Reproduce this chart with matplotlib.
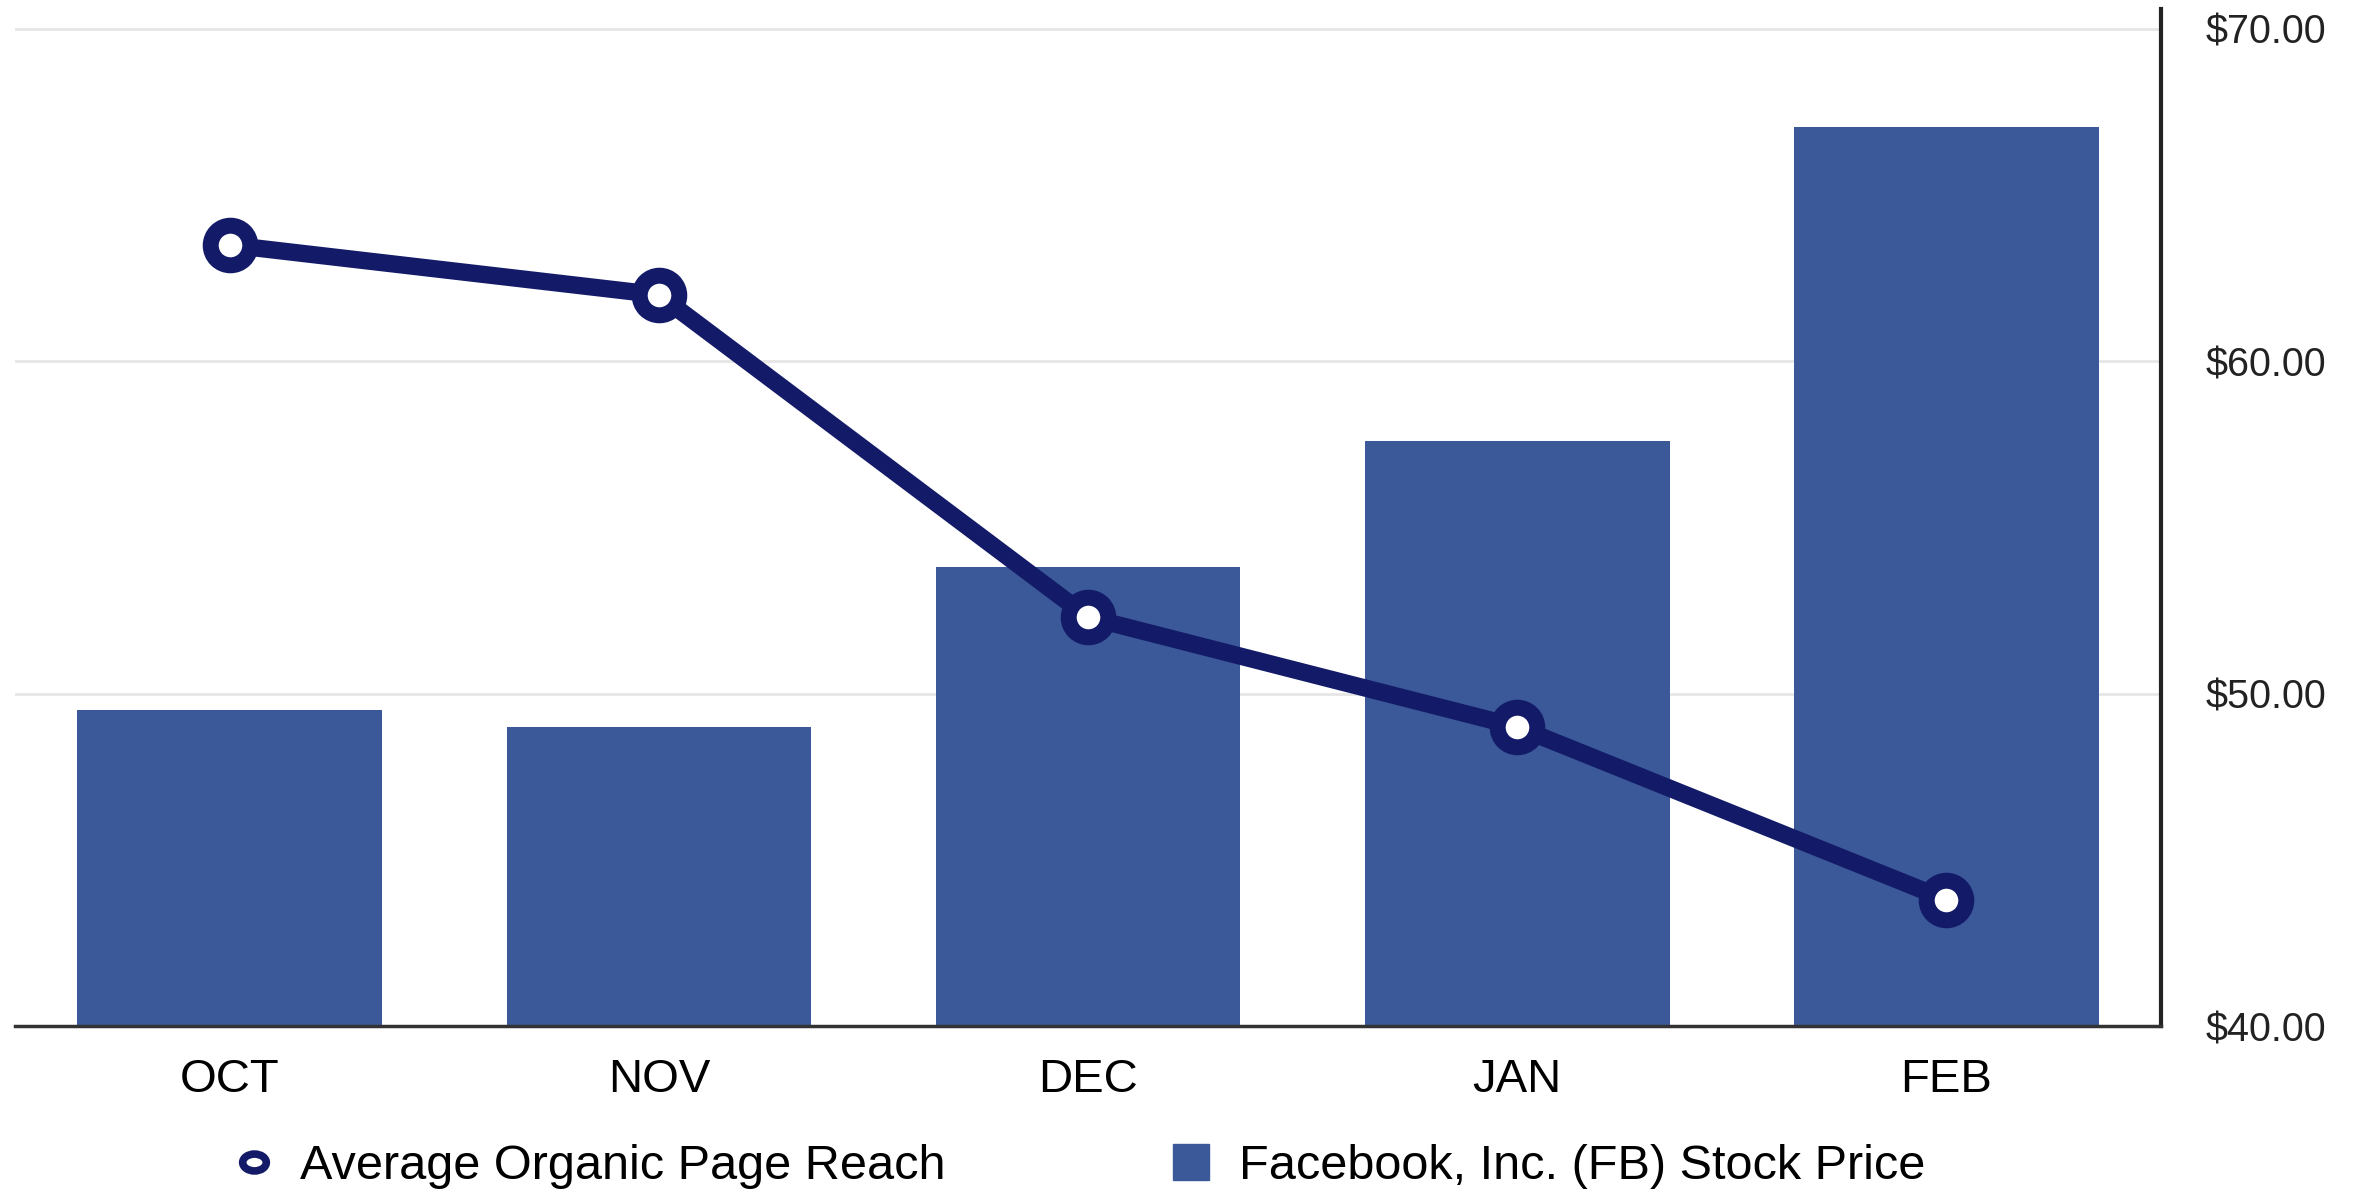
import matplotlib
matplotlib.use("Agg")
import matplotlib.pyplot as plt
from matplotlib.lines import Line2D
from matplotlib.path import Path
from matplotlib.transforms import Affine2D

plt.rcParams['font.family'] = ['Liberation Sans', 'DejaVu Sans']

months = ["OCT", "NOV", "DEC", "JAN", "FEB"]
stock_price = [49.5, 49.0, 53.8, 57.6, 67.05]
# organic reach drawn on the same (unlabelled) scale
organic_reach = [63.5, 62.0, 52.3, 49.0, 43.8]
price_ticks = [40, 50, 60, 70]
price_tick_labels = ["$40.00", "$50.00", "$60.00", "$70.00"]

bar_color = "#3b5998"
line_color = "#131b69"

fig = plt.figure(figsize=(23.61, 11.95), dpi=100)
ax = fig.add_axes([0.0064, 0.1414, 0.9153 - 0.0064, 0.9925 - 0.1414])

x = list(range(len(months)))
ax.bar(x, stock_price, width=0.71, color=bar_color, zorder=2)
ax.plot(x, organic_reach, color=line_color, linewidth=12.5, marker='o',
        markersize=28.5, markeredgewidth=11.5, markerfacecolor='white',
        markeredgecolor=line_color, zorder=3, solid_joinstyle='round')

ax.set_xlim(-0.5, 4.5)
ax.set_ylim(40, 70.6)
ax.set_xticks(x)
ax.set_xticklabels(months, fontsize=34)
ax.yaxis.tick_right()
ax.set_yticks(price_ticks)
ax.set_yticklabels(price_tick_labels, fontsize=28.5, color="#222222")
ax.tick_params(axis='x', length=0, pad=23)
ax.tick_params(axis='y', length=0, pad=32)
ax.grid(axis='y', color="#e6e6e6", linewidth=2, zorder=0)
ax.set_axisbelow(True)

for s in ['top', 'left']:
    ax.spines[s].set_visible(False)
ax.spines['right'].set_linewidth(3)
ax.spines['right'].set_color("#222222")
ax.spines['bottom'].set_linewidth(2.5)
ax.spines['bottom'].set_color("#333333")

ellipse = Path.unit_circle().transformed(Affine2D().scale(1.4, 1.0))
h1 = Line2D([], [], color=line_color, marker=ellipse, linestyle='none',
            markersize=17, markeredgewidth=5.5, markerfacecolor='white',
            markeredgecolor=line_color)
h2 = Line2D([], [], color=bar_color, marker='s', linestyle='none', markersize=25.5)

leg1 = fig.legend([h1], ["Average Organic Page Reach"], loc='center left',
                  bbox_to_anchor=(229.5 / 2361, 0.024), frameon=False,
                  fontsize=35, borderpad=0, borderaxespad=0, handlelength=1,
                  handletextpad=0.44)
leg2 = fig.legend([h2], ["Facebook, Inc. (FB) Stock Price"], loc='center left',
                  bbox_to_anchor=(1166.5 / 2361, 0.024), frameon=False,
                  fontsize=35, borderpad=0, borderaxespad=0, handlelength=1,
                  handletextpad=0.5)

fig.savefig("out.png", dpi=100, facecolor='white')
